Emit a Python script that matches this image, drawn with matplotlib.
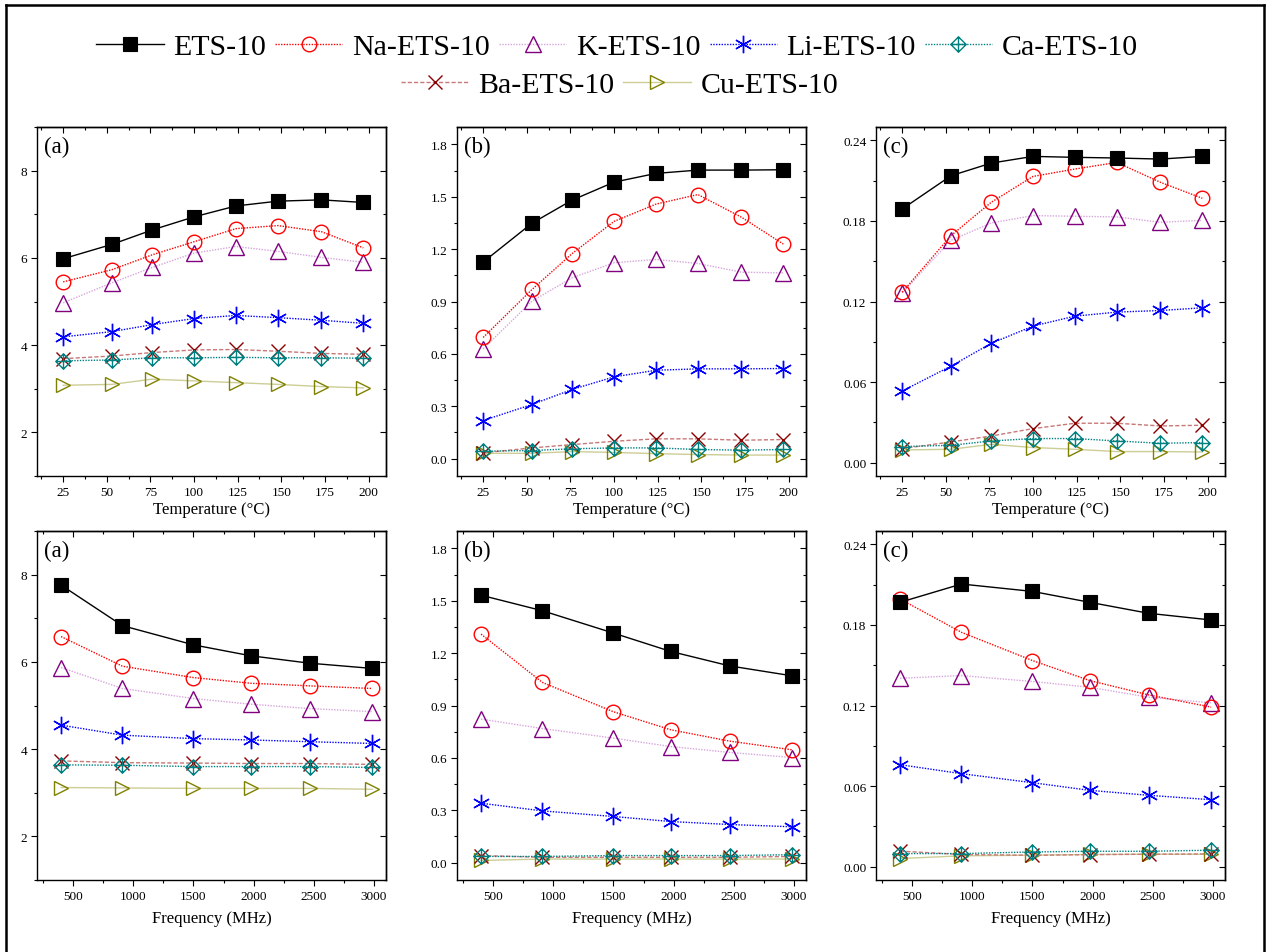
import matplotlib
matplotlib.use('Agg')
import matplotlib.pyplot as plt
from matplotlib.path import Path
from matplotlib.lines import Line2D
from matplotlib.ticker import MultipleLocator, FormatStrFormatter

plt.rcParams['font.family'] = ['Liberation Serif', 'DejaVu Serif']

series_names = ['ETS-10', 'Na-ETS-10', 'K-ETS-10', 'Li-ETS-10', 'Ca-ETS-10', 'Ba-ETS-10', 'Cu-ETS-10']

temperature = [25, 53, 76, 100, 124, 148, 173, 197]
frequency = [400, 910, 1500, 1975, 2465, 2985]

# ---- Temperature panel (a)
ta_ets = [5.98, 6.31, 6.64, 6.94, 7.19, 7.30, 7.33, 7.27]
ta_na = [5.45, 5.73, 6.07, 6.37, 6.67, 6.74, 6.60, 6.23]
ta_k = [4.97, 5.43, 5.78, 6.11, 6.26, 6.15, 6.01, 5.90]
ta_li = [4.19, 4.31, 4.47, 4.61, 4.68, 4.63, 4.57, 4.50]
ta_ca = [3.64, 3.66, 3.71, 3.71, 3.72, 3.71, 3.71, 3.70]
ta_ba = [3.69, 3.75, 3.83, 3.89, 3.90, 3.86, 3.81, 3.79]
ta_cu = [3.08, 3.10, 3.22, 3.18, 3.14, 3.10, 3.05, 3.02]

# ---- Temperature panel (b)
tb_ets = [1.126, 1.349, 1.481, 1.584, 1.634, 1.653, 1.653, 1.655]
tb_na = [0.694, 0.969, 1.175, 1.359, 1.458, 1.513, 1.383, 1.229]
tb_k = [0.629, 0.902, 1.036, 1.122, 1.141, 1.118, 1.068, 1.064]
tb_li = [0.218, 0.310, 0.396, 0.468, 0.506, 0.514, 0.514, 0.516]
tb_ca = [0.042, 0.046, 0.056, 0.061, 0.061, 0.052, 0.048, 0.052]
tb_ba = [0.033, 0.061, 0.080, 0.099, 0.113, 0.113, 0.105, 0.109]
tb_cu = [0.030, 0.030, 0.040, 0.035, 0.028, 0.023, 0.020, 0.020]

# ---- Temperature panel (c)
tc_ets = [0.1889, 0.2137, 0.2231, 0.2281, 0.2274, 0.2269, 0.2261, 0.2281]
tc_na = [0.1269, 0.1691, 0.1939, 0.2132, 0.2187, 0.2236, 0.2088, 0.1969]
tc_k = [0.1264, 0.1656, 0.1785, 0.1840, 0.1835, 0.1830, 0.1790, 0.1805]
tc_li = [0.0533, 0.0719, 0.0888, 0.1017, 0.1091, 0.1121, 0.1133, 0.1153]
tc_ca = [0.0119, 0.0129, 0.0161, 0.0179, 0.0179, 0.0161, 0.0144, 0.0149]
tc_ba = [0.0104, 0.0154, 0.0198, 0.0253, 0.0293, 0.0293, 0.0273, 0.0278]
tc_cu = [0.0094, 0.0099, 0.0136, 0.0112, 0.0099, 0.0082, 0.0082, 0.0079]

# ---- Frequency panel (a)
fa_ets = [7.76, 6.83, 6.39, 6.14, 5.97, 5.85]
fa_na = [6.58, 5.90, 5.64, 5.51, 5.45, 5.39]
fa_k = [5.87, 5.39, 5.16, 5.03, 4.93, 4.86]
fa_li = [4.55, 4.32, 4.24, 4.21, 4.17, 4.13]
fa_ca = [3.64, 3.63, 3.60, 3.60, 3.60, 3.58]
fa_ba = [3.73, 3.69, 3.68, 3.67, 3.67, 3.65]
fa_cu = [3.12, 3.11, 3.10, 3.10, 3.10, 3.08]

# ---- Frequency panel (b)
fb_ets = [1.532, 1.443, 1.315, 1.210, 1.127, 1.070]
fb_na = [1.309, 1.032, 0.864, 0.761, 0.696, 0.646]
fb_k = [0.822, 0.768, 0.713, 0.665, 0.631, 0.602]
fb_li = [0.340, 0.296, 0.264, 0.235, 0.218, 0.205]
fb_ca = [0.035, 0.035, 0.040, 0.040, 0.040, 0.045]
fb_ba = [0.040, 0.030, 0.030, 0.030, 0.030, 0.035]
fb_cu = [0.012, 0.020, 0.020, 0.020, 0.020, 0.020]

# ---- Frequency panel (c)
fc_ets = [0.1969, 0.2105, 0.2050, 0.1969, 0.1887, 0.1837]
fc_na = [0.1993, 0.1745, 0.1535, 0.1386, 0.1279, 0.1188]
fc_k = [0.1403, 0.1423, 0.1379, 0.1336, 0.1262, 0.1220]
fc_li = [0.0759, 0.0692, 0.0625, 0.0568, 0.0531, 0.0498]
fc_ca = [0.0097, 0.0097, 0.0109, 0.0114, 0.0114, 0.0122]
fc_ba = [0.0115, 0.0090, 0.0084, 0.0089, 0.0092, 0.0094]
fc_cu = [0.0060, 0.0080, 0.0085, 0.0090, 0.0092, 0.0092]

panel_labels = ['(a)', '(b)', '(c)']

# custom marker: diamond with a cross inside
diamond_plus = Path(
    [(0, 1), (1, 0), (0, -1), (-1, 0), (0, 1), (0, 1), (0, -1), (-1, 0), (1, 0)],
    [Path.MOVETO, Path.LINETO, Path.LINETO, Path.LINETO, Path.CLOSEPOLY,
     Path.MOVETO, Path.LINETO, Path.MOVETO, Path.LINETO])

styles = {
    'ETS-10': dict(color='black', ls='-', lw=1.0, marker='s', mfc='black', mec='black', ms=10, mew=0.8),
    'Na-ETS-10': dict(color='#FF0000', ls=(0, (1, 1)), lw=1.0, marker='o', mfc='none', mec='#FF0000', ms=10.5, mew=1.0),
    'K-ETS-10': dict(color='#D7A6DC', ls=(0, (1, 1)), lw=1.0, marker='^', mfc='none', mec='#800080', ms=11, mew=1.0),
    'Li-ETS-10': dict(color='#0000FF', ls=(0, (1, 1)), lw=1.0, marker=(6, 2, 0), mfc='none', mec='#0000FF', ms=12.5, mew=1.0),
    'Ca-ETS-10': dict(color='#008080', ls=(0, (1, 1)), lw=1.0, marker=diamond_plus, mfc='none', mec='#008080', ms=11, mew=1.0),
    'Ba-ETS-10': dict(color='#C87878', ls=(0, (3, 1.5)), lw=1.0, marker='x', mfc='none', mec='#8B0000', ms=10.5, mew=1.0),
    'Cu-ETS-10': dict(color='#CDCD96', ls='-', lw=1.0, marker='>', mfc='none', mec='#808000', ms=10.5, mew=1.0),
}

W, H = 1270, 953
fig = plt.figure(figsize=(W / 100, H / 100), dpi=100)

lefts = [37, 457, 876]
ax_w = 349
ax_h = 349
tops = [128, 532]

def make_ax(col, row):
    l = lefts[col] / W
    b = 1 - (tops[row] + ax_h) / H
    return fig.add_axes([l, b, ax_w / W, ax_h / H])

top_data = [
    [ta_ets, ta_na, ta_k, ta_li, ta_ca, ta_ba, ta_cu],
    [tb_ets, tb_na, tb_k, tb_li, tb_ca, tb_ba, tb_cu],
    [tc_ets, tc_na, tc_k, tc_li, tc_ca, tc_ba, tc_cu],
]
bot_data = [
    [fa_ets, fa_na, fa_k, fa_li, fa_ca, fa_ba, fa_cu],
    [fb_ets, fb_na, fb_k, fb_li, fb_ca, fb_ba, fb_cu],
    [fc_ets, fc_na, fc_k, fc_li, fc_ca, fc_ba, fc_cu],
]

ylims = [(1, 9), (-0.1, 1.9), (-0.01, 0.25)]
ymajor = [2, 0.3, 0.06]
yminor = [1, 0.15, 0.03]
yfmt = ['%d', '%.1f', '%.2f']

# plotting order so black is on top
draw_order = [6, 5, 4, 3, 2, 1, 0]

def style_axis(ax, col, is_temp):
    ax.set_ylim(*ylims[col])
    ax.yaxis.set_major_locator(MultipleLocator(ymajor[col]))
    ax.yaxis.set_minor_locator(MultipleLocator(yminor[col]))
    ax.yaxis.set_major_formatter(FormatStrFormatter(yfmt[col]))
    if is_temp:
        ax.set_xlim(10, 210)
        ax.xaxis.set_major_locator(MultipleLocator(25))
        ax.xaxis.set_minor_locator(MultipleLocator(12.5))
        ax.set_xlabel('Temperature (°C)', fontsize=12, labelpad=2)
    else:
        ax.set_xlim(200, 3100)
        ax.xaxis.set_major_locator(MultipleLocator(500))
        ax.xaxis.set_minor_locator(MultipleLocator(250))
        ax.set_xlabel('Frequency (MHz)', fontsize=12, labelpad=6)
    ax.tick_params(axis='both', which='major', labelsize=9.5, length=4, width=0.8, pad=3)
    ax.tick_params(axis='both', which='minor', length=2.5, width=0.8)
    ax.tick_params(axis='x', which='both', direction='out', top=False)
    ax.tick_params(axis='y', which='both', direction='out', right=False)
    # inner ticks on top and right
    sec_x = ax.secondary_xaxis('top')
    sec_x.xaxis.set_major_locator(ax.xaxis.get_major_locator())
    sec_x.xaxis.set_minor_locator(ax.xaxis.get_minor_locator())
    sec_x.tick_params(which='both', direction='in', labeltop=False, width=0.8)
    sec_x.tick_params(which='major', length=4)
    sec_x.tick_params(which='minor', length=2.5)
    sec_y = ax.secondary_yaxis('right')
    sec_y.yaxis.set_major_locator(ax.yaxis.get_major_locator())
    sec_y.yaxis.set_minor_locator(ax.yaxis.get_minor_locator())
    sec_y.tick_params(which='both', direction='in', labelright=False, width=0.8)
    sec_y.tick_params(which='major', length=4)
    sec_y.tick_params(which='minor', length=2.5)
    for s in ax.spines.values():
        s.set_linewidth(1.0)
    for s in list(sec_x.spines.values()) + list(sec_y.spines.values()):
        s.set_linewidth(1.0)
    ax.text(0.02, 0.975, panel_labels[col], transform=ax.transAxes, fontsize=16.5,
            ha='left', va='top')

handles = {}
for col in range(3):
    ax = make_ax(col, 0)
    for i in draw_order:
        name = series_names[i]
        ln, = ax.plot(temperature, top_data[col][i], label=name, **styles[name])
        handles[name] = ln
    style_axis(ax, col, True)

    ax = make_ax(col, 1)
    for i in draw_order:
        name = series_names[i]
        ax.plot(frequency, bot_data[col][i], label=name, **styles[name])
    style_axis(ax, col, False)

row1 = series_names[:5]
row2 = series_names[5:]
leg_kw = dict(frameon=False, fontsize=21.5, handlelength=2.25, handletextpad=0.33,
              columnspacing=0.3, borderpad=0, borderaxespad=0)
fig.legend([handles[n] for n in row1], row1, loc='center', ncol=5,
           bbox_to_anchor=(0.486, 1 - 48 / H), **leg_kw)
fig.legend([handles[n] for n in row2], row2, loc='center', ncol=2,
           bbox_to_anchor=(0.488, 1 - 86 / H), **leg_kw)

# outer frame
frame_kw = dict(color='black', lw=1.8, transform=fig.transFigure)
x0, x1 = 6 / W, 1264 / W
y0, y1 = 0.0, 1 - 6 / H
fig.add_artist(Line2D([x0, x0], [y0, y1], **frame_kw))
fig.add_artist(Line2D([x0, x1], [y1, y1], **frame_kw))
fig.add_artist(Line2D([x1, x1], [y0, y1], **frame_kw))

fig.savefig('out.png', dpi=100)
